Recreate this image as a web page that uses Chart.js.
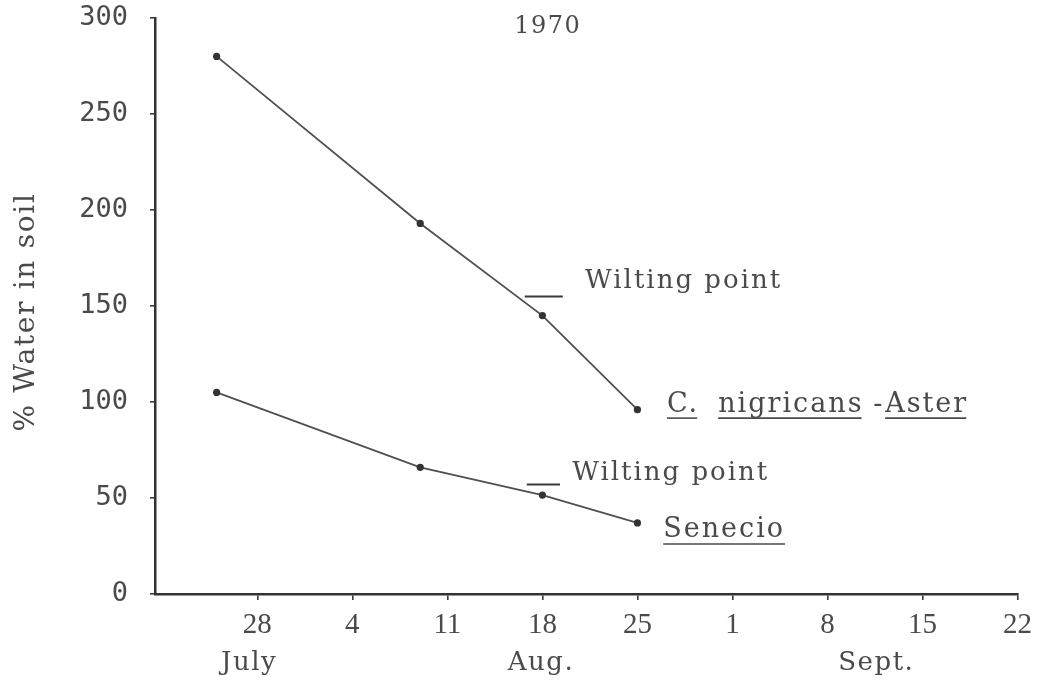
<!DOCTYPE html>
<html>
<head>
<meta charset="utf-8">
<script src="https://cdn.jsdelivr.net/npm/chart.js@4.4.1/dist/chart.umd.min.js"></script>
<style>
  html, body { margin: 0; padding: 0; background: #ffffff; }
  #wrap { width: 1040px; height: 683px; }
</style>
</head>
<body>
<div id="wrap"><canvas id="c" width="1040" height="683"></canvas></div>
<script>
// ---- data (x = day counted from 1 July 1970) ----
const tickDays   = [28, 35, 42, 49, 56, 63, 70, 77, 84];
const tickLabels = ['28', '4', '11', '18', '25', '1', '8', '15', '22'];
const monthLabels = ['July', 'Aug.', 'Sept.'];
const monthDays   = [27.4, 48.9, 73.6];
const yTicks = [0, 50, 100, 150, 200, 250, 300];

const sampleDays     = [25, 40, 49, 56];
const nigricansAster = [280, 193, 145, 96];
const senecio        = [105, 66, 51.5, 37];

const wiltingNigricans = 155;
const wiltingSenecio   = 57;

const titleText = '1970';
const yTitle = '% Water in soil';

// ---- build ----
const pts = (xs, ys) => xs.map((x, i) => ({ x: x, y: ys[i] }));
const TXT = '#4a4a4a';
const LINE = '#505050';

const annot = {
  id: 'annot',
  afterDraw(chart) {
    const c = chart.ctx;
    const xs = chart.scales.x, ys = chart.scales.y;
    const X = v => xs.getPixelForValue(v), Y = v => ys.getPixelForValue(v);
    const txt = (s, x, y, font, ls, align, base) => {
      c.save();
      c.font = font;
      c.letterSpacing = ls + 'px';
      c.fillStyle = TXT;
      c.textAlign = align || 'left';
      c.textBaseline = base || 'alphabetic';
      c.fillText(s, x, y);
      const w = c.measureText(s).width;
      c.restore();
      return w;
    };
    const under = (x, w, y) => {
      c.save();
      c.strokeStyle = TXT; c.lineWidth = 1.6;
      c.beginPath(); c.moveTo(x, y); c.lineTo(x + w, y); c.stroke();
      c.restore();
    };
    // title
    txt(titleText, X(49.4), Y(292.2), '24px "DejaVu Serif"', 1.5, 'center');
    // y title
    c.save();
    c.translate(27, Y(146.9));
    c.rotate(-Math.PI / 2);
    c.font = '28px "DejaVu Serif"';
    c.letterSpacing = '1.7px';
    c.fillStyle = TXT; c.textAlign = 'center'; c.textBaseline = 'middle';
    c.fillText(yTitle, 0, 0);
    c.restore();
    // month labels
    monthLabels.forEach((m, i) => {
      txt(m, X(monthDays[i]), chart.chartArea.bottom + 76, '26px "DejaVu Serif"', 1.5, 'center');
    });
    // wilting point labels
    txt('Wilting point', X(52.14), Y(wiltingNigricans + 4.4), '26px "DejaVu Serif"', 2);
    txt('Wilting point', X(51.19), Y(wiltingSenecio + 2.4), '26px "DejaVu Serif"', 2);
    // species labels
    const f = '27px "DejaVu Serif"';
    const by = Y(95), uy = by + 6.5;
    let w = txt('C.', X(58.17), by, f, 2); under(X(58.17), w - 2, uy);
    w = txt('nigricans', X(61.95), by, f, 2); under(X(61.95), w - 2, uy);
    txt('-', X(73.37), by, f, 2);
    w = txt('Aster', X(74.25), by, f, 2); under(X(74.25), w - 2, uy);
    const sy = Y(29.7);
    w = txt('Senecio', X(57.9), sy, f, 2); under(X(57.9), w, sy + 7);
  }
};

const seriesStyle = {
  borderColor: LINE, borderWidth: 1.8,
  pointRadius: 3.6, pointBackgroundColor: '#333', pointBorderWidth: 0,
  fill: false, tension: 0
};
const wiltStyle = { borderColor: '#3a3a3a', borderWidth: 2, pointRadius: 0, fill: false };

new Chart(document.getElementById('c'), {
  type: 'line',
  data: {
    datasets: [
      Object.assign({ label: 'C. nigricans-Aster', data: pts(sampleDays, nigricansAster) }, seriesStyle),
      Object.assign({ label: 'Senecio', data: pts(sampleDays, senecio) }, seriesStyle),
      Object.assign({ label: 'Wilting point (C. nigricans-Aster)', data: [{ x: 47.7, y: wiltingNigricans }, { x: 50.5, y: wiltingNigricans }] }, wiltStyle),
      Object.assign({ label: 'Wilting point (Senecio)', data: [{ x: 47.85, y: wiltingSenecio }, { x: 50.3, y: wiltingSenecio }] }, wiltStyle)
    ]
  },
  options: {
    responsive: false,
    animation: false,
    layout: { padding: { left: 0, right: 22, top: 18, bottom: 0 } },
    plugins: { legend: { display: false }, tooltip: { enabled: false }, title: { display: false } },
    scales: {
      x: {
        type: 'linear', min: 20.46, max: 84,
        afterBuildTicks: s => { s.ticks = tickDays.map(v => ({ value: v })); },
        afterFit: s => { s.height = 89; },
        ticks: {
          autoSkip: false, maxRotation: 0,
          callback: v => tickLabels[tickDays.indexOf(v)],
          font: { family: '"Liberation Serif"', size: 29 },
          color: TXT, padding: 8
        },
        grid: { drawOnChartArea: false, drawTicks: true, tickLength: 6, color: '#3a3a3a', lineWidth: 1.6 },
        border: { display: true, color: '#333', width: 2.5 }
      },
      y: {
        type: 'linear', min: 0, max: 300,
        afterBuildTicks: s => { s.ticks = yTicks.map(v => ({ value: v })); },
        afterFit: s => { s.width = 155; s.paddingTop = 0; s.paddingBottom = 0; },
        ticks: {
          font: { family: '"DejaVu Sans Mono"', size: 27 },
          color: TXT, padding: 22
        },
        grid: { drawOnChartArea: false, drawTicks: true, tickLength: 5, color: '#3a3a3a', lineWidth: 1.6 },
        border: { display: true, color: '#333', width: 2.5 }
      }
    }
  },
  plugins: [annot]
});
</script>
</body>
</html>
